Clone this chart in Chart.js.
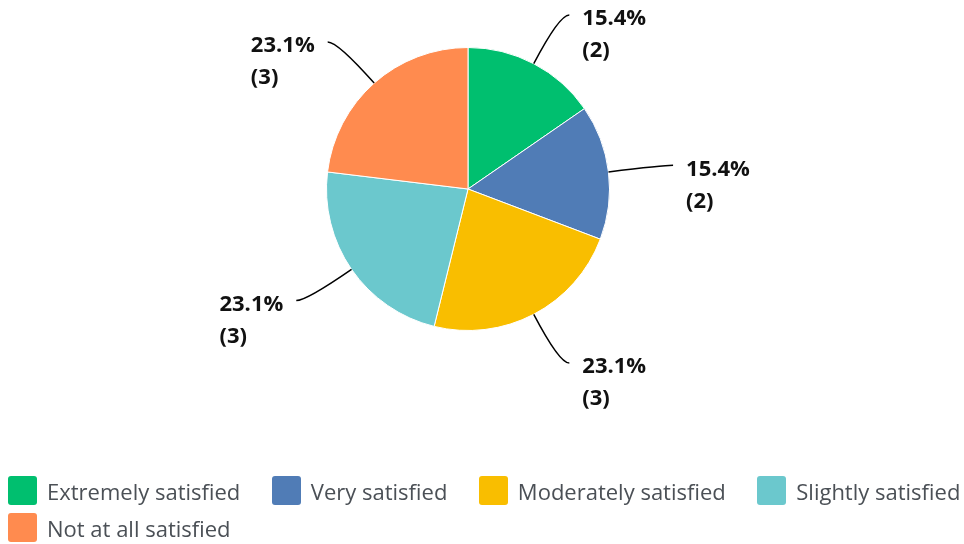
<!DOCTYPE html>
<html>
<head>
<meta charset="utf-8">
<script src="https://cdn.jsdelivr.net/npm/chart.js@4"></script>
<style>
  html, body { margin: 0; padding: 0; background: #fff; }
  #wrap { position: relative; width: 964px; height: 544px; }
  #chart { position: absolute; left: 0; top: 0; }
  #legend { position: absolute; left: 8px; top: 476px; width: 956px; display: flex; flex-wrap: wrap; column-gap: 31.5px; row-gap: 8px;
            font-family: "Open Sans", sans-serif; font-size: 22px; color: #4b5056; }
  .item { display: flex; align-items: center; height: 29px; white-space: nowrap; }
  .box { width: 29px; height: 29px; border-radius: 3px; margin-right: 10px; flex: none; }
</style>
</head>
<body>
<div id="wrap">
  <canvas id="chart" width="964" height="544"></canvas>
  <div id="legend"></div>
</div>
<script>
const categories = ["Extremely satisfied", "Very satisfied", "Moderately satisfied", "Slightly satisfied", "Not at all satisfied"];
const counts = [2, 2, 3, 3, 3];
const colors = ["#00BF6F", "#507CB6", "#F9BE00", "#6BC8CD", "#FF8B4F"];

const total = counts.reduce((a, b) => a + b, 0);

const calloutPlugin = {
  id: 'callouts',
  afterDatasetsDraw(chart) {
    const ctx = chart.ctx;
    const meta = chart.getDatasetMeta(0);
    ctx.save();
    meta.data.forEach((arc, i) => {
      const p = arc.getProps(['x', 'y', 'startAngle', 'endAngle', 'outerRadius'], true);
      const mid = (p.startAngle + p.endAngle) / 2;
      const c = Math.cos(mid), s = Math.sin(mid);
      const r = p.outerRadius;
      const sx = p.x + c * r, sy = p.y + s * r;
      const cx = p.x + c * (r + 55), cy = p.y + s * (r + 55);
      const right = c >= 0;
      const ex = cx + (right ? 10 : -10), ey = cy;
      ctx.beginPath();
      ctx.moveTo(sx, sy);
      ctx.quadraticCurveTo(cx, cy, ex, ey);
      ctx.strokeStyle = '#000';
      ctx.lineWidth = 1.5;
      ctx.stroke();
      const pct = (counts[i] / total * 100).toFixed(1) + '%';
      const cnt = '(' + counts[i] + ')';
      ctx.fillStyle = '#111';
      ctx.font = 'bold 22px "Open Sans", sans-serif';
      ctx.textBaseline = 'middle';
      ctx.textAlign = 'left';
      const w = Math.max(ctx.measureText(pct).width, ctx.measureText(cnt).width);
      const tx = right ? ex + 13 : ex - 13 - w;
      ctx.fillText(pct, tx, ey + 4);
      ctx.fillText(cnt, tx, ey + 36);
    });
    ctx.restore();
  }
};

new Chart(document.getElementById('chart'), {
  type: 'pie',
  data: {
    labels: categories,
    datasets: [{
      data: counts,
      backgroundColor: colors,
      borderColor: '#ffffff',
      borderWidth: 1
    }]
  },
  options: {
    responsive: false,
    animation: false,
    layout: { padding: { top: 47, bottom: 213, left: 0, right: 28 } },
    plugins: {
      legend: { display: false },
      tooltip: { enabled: false }
    }
  },
  plugins: [calloutPlugin]
});

const legend = document.getElementById('legend');
categories.forEach((name, i) => {
  const item = document.createElement('div');
  item.className = 'item';
  const box = document.createElement('span');
  box.className = 'box';
  box.style.background = colors[i];
  const txt = document.createElement('span');
  txt.textContent = name;
  item.appendChild(box);
  item.appendChild(txt);
  legend.appendChild(item);
});
</script>
</body>
</html>
